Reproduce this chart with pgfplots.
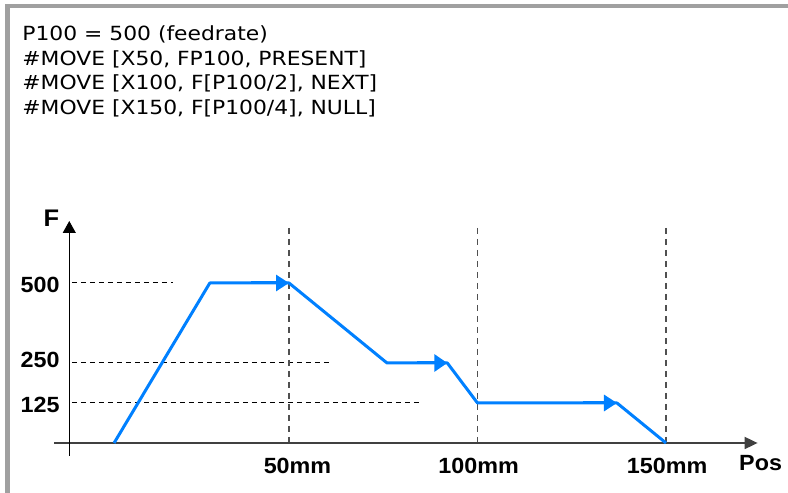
\documentclass[border=0pt]{standalone}
\usepackage{fontspec}
\usepackage{graphicx}
\usepackage{pgfplots}
\pgfplotsset{compat=1.18}
\usetikzlibrary{arrows.meta}
\setmainfont{DejaVu Sans}
\newfontfamily\lab{Liberation Sans}
\definecolor{flow}{RGB}{0,128,255}
\definecolor{frame}{RGB}{160,160,160}
\definecolor{vgrid}{RGB}{80,80,80}
\newcommand{\prog}[1]{\scalebox{1.12}[1]{\fontsize{9.75}{11}\selectfont #1}}
\newcommand{\lb}[1]{\scalebox{1.06}[1]{\lab\bfseries\fontsize{11}{13}\selectfont #1}}

\pgfplotstableread{
pos F
3.6 0
29 500
50 500
76 250
92 250
100 125
137 125
150 0
}\feedprofile

\begin{document}
\begin{tikzpicture}
\begin{axis}[
 width=394pt, height=246.5pt, scale only axis,
 xmin=-26.658, xmax=182.361, ymin=-156.25, ymax=1384.375,
 axis lines=none, clip=false,
]
% frame
\fill[frame] (axis cs:-25.33,1371.875) rectangle (axis cs:182.361,1359.375);
\fill[frame] (axis cs:-25.33,1371.875) rectangle (axis cs:-24.005,-156.25);

% program text
\node[anchor=base west, inner sep=0pt] at (axis cs:-20.82,1256.25) {\prog{P100 = 500 (feedrate)}};
\node[anchor=base west, inner sep=0pt] at (axis cs:-20.82,1179.69) {\prog{\#MOVE [X50, FP100, PRESENT]}};
\node[anchor=base west, inner sep=0pt] at (axis cs:-20.82,1103.13) {\prog{\#MOVE [X100, F[P100/2], NEXT]}};
\node[anchor=base west, inner sep=0pt] at (axis cs:-20.82,1026.56) {\prog{\#MOVE [X150, F[P100/4], NULL]}};

% reference lines
\addplot[black, line width=0.5pt, dash pattern=on 2.5pt off 2pt] coordinates {(-7.6,500) (19.2,500)};
\addplot[black, line width=0.5pt, dash pattern=on 2.5pt off 2pt] coordinates {(-7.6,250) (61.1,250)};
\addplot[black, line width=0.5pt, dash pattern=on 2.5pt off 2pt] coordinates {(-7.6,125) (85.5,125)};
\addplot[vgrid, line width=0.6pt, dash pattern=on 3pt off 2.5pt] coordinates {(50,672) (50,0)};
\addplot[vgrid, line width=0.6pt, dash pattern=on 3pt off 2.5pt] coordinates {(100,672) (100,0)};
\addplot[vgrid, line width=0.6pt, dash pattern=on 3pt off 2.5pt] coordinates {(150,672) (150,0)};

% axes
\draw[black!75, line width=0.9pt, -{Triangle[length=6.5pt,width=6pt]}] (axis cs:-12.33,0) -- (axis cs:174.3,0);
\draw[black, line width=0.6pt, -{Triangle[length=6pt,width=6.5pt]}] (axis cs:-8.28,-40.6) -- (axis cs:-8.28,693.75);

% feed profile
\addplot[flow, line width=1.5pt, line join=round, no marks] table[x=pos, y=F] {\feedprofile};
\addplot[flow, line width=1.5pt, -{Triangle[length=6.5pt,width=8pt]}] coordinates {(40,500) (50,500)};
\addplot[flow, line width=1.5pt, -{Triangle[length=6.5pt,width=8.5pt]}] coordinates {(84,250) (92,250)};
\addplot[flow, line width=1.5pt, -{Triangle[length=6.5pt,width=8pt]}] coordinates {(128,125) (137,125)};

% labels
\node[anchor=east, inner sep=0pt] at (axis cs:-10.74,494) {\lb{500}};
\node[anchor=east, inner sep=0pt] at (axis cs:-10.74,259) {\lb{250}};
\node[anchor=east, inner sep=0pt] at (axis cs:-10.74,119) {\lb{125}};
\node[inner sep=0pt] at (axis cs:-13.0,703) {\scalebox{1.06}[1]{\lab\bfseries\fontsize{12}{14}\selectfont F}};
\node[inner sep=0pt] at (axis cs:52.25,-70.3) {\lb{50mm}};
\node[inner sep=0pt] at (axis cs:100.3,-70.3) {\lb{100mm}};
\node[inner sep=0pt] at (axis cs:150.3,-70.3) {\lb{150mm}};
\node[inner sep=0pt] at (axis cs:175.1,-64) {\lb{Pos}};
\end{axis}
\pgfresetboundingbox
\path (current axis.south west) rectangle (current axis.north east);
\end{tikzpicture}
\end{document}
